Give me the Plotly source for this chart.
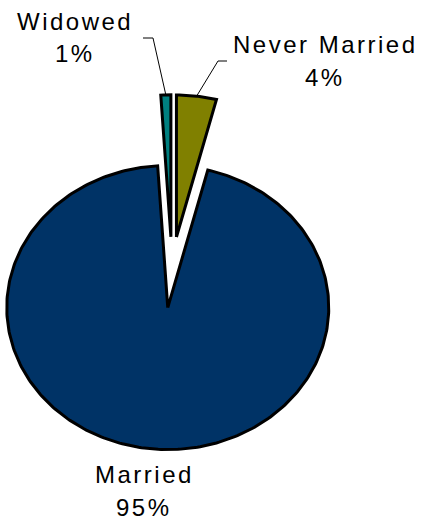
import math
import plotly.graph_objects as go

# ---- data ----
categories = ["Never Married", "Married", "Widowed"]
values = [4, 95, 1]
pct_labels = ["4%", "95%", "1%"]

# ---- style / layout parameters ----
colors = ["#808000", "#003366", "#008080"]
W, H = 425, 524
cx, cy = 172, 268          # pie centre (pixels)
rx, ry = 161, 142          # ellipse radii (pixels)
explode = [0.22, 0.28, 0.22]
label_pos = {"Never Married": (325, 44, 77), "Married": (144, 474, 507), "Widowed": (75, 21, 53)}
leader_start = {"Never Married": [(227, 61), (218, 61)], "Widowed": [(143, 38), (153, 38)]}
font = dict(family="Liberation Sans, Arial, sans-serif", size=24, color="black")

fig = go.Figure()
total = sum(values)
start = 0.0
for cat, val, col in zip(categories, values, colors):
    a0 = start
    a1 = start + 360.0 * val / total
    start = a1
    mid = math.radians((a0 + a1) / 2)
    e = explode[categories.index(cat)]
    ox = cx + rx * e * math.sin(mid)
    oy = cy - ry * e * math.cos(mid)
    n = max(4, int((a1 - a0) / 1.0))
    xs, ys = [ox], [oy]
    for i in range(n + 1):
        t = math.radians(a0 + (a1 - a0) * i / n)
        xs.append(ox + rx * math.sin(t))
        ys.append(oy - ry * math.cos(t))
    xs.append(ox)
    ys.append(oy)
    fig.add_trace(go.Scatter(x=xs, y=ys, mode="lines", fill="toself", fillcolor=col,
                             line=dict(color="black", width=3), hoverinfo="skip",
                             showlegend=False))
    # leader line
    if cat in leader_start:
        ex = ox + rx * math.sin(mid)
        ey = oy - ry * math.cos(mid)
        pts = leader_start[cat] + [(ex, ey)]
        fig.add_trace(go.Scatter(x=[p[0] for p in pts], y=[p[1] for p in pts], mode="lines",
                                 line=dict(color="black", width=1), hoverinfo="skip",
                                 showlegend=False))
    lx, ly1, ly2 = label_pos[cat]
    pct = pct_labels[categories.index(cat)]
    for txt, yy in ((cat, ly1), (pct, ly2)):
        fig.add_annotation(x=lx, y=yy, text=f'<span style="letter-spacing:2.5px">{txt}</span>',
                           showarrow=False, font=font, xanchor="center", yanchor="middle")

fig.update_layout(width=W, height=H, margin=dict(l=0, r=0, t=0, b=0),
                  paper_bgcolor="white", plot_bgcolor="white",
                  xaxis=dict(range=[0, W], visible=False, fixedrange=True),
                  yaxis=dict(range=[H, 0], visible=False, fixedrange=True))
fig.write_html("out.html", post_script="document.body.style.margin='0';",
               config={"displayModeBar": False})
